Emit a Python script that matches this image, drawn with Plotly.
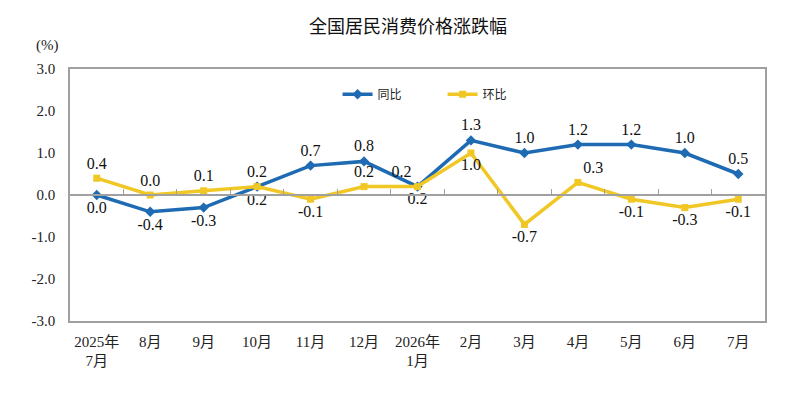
import plotly.graph_objects as go

# 月份
months = ["2025年<br>7月", "8月", "9月", "10月", "11月", "12月", "2026年<br>1月",
          "2月", "3月", "4月", "5月", "6月", "7月"]
# 同比 / 环比 (%)
yoy = [0.0, -0.4, -0.3, 0.2, 0.7, 0.8, 0.2, 1.3, 1.0, 1.2, 1.2, 1.0, 0.5]
mom = [0.4, 0.0, 0.1, 0.2, -0.1, 0.2, 0.2, 1.0, -0.7, 0.3, -0.1, -0.3, -0.1]
y_ticks = [3.0, 2.0, 1.0, 0.0, -1.0, -2.0, -3.0]

yoy_pos = ["bottom center", "bottom center", "bottom center", "bottom center",
           "top center", "top center", "top left", "top center", "top center",
           "top center", "top center", "top center", "top center"]
mom_pos = ["top center", "top center", "top center", "top center", "bottom center",
           "top center", "bottom center", "bottom center", "bottom center",
           "top right", "bottom center", "bottom center", "bottom center"]

serif = "Liberation Serif, Times New Roman, Noto Sans CJK SC"
sans = "Noto Sans CJK SC, Noto Sans"
blue = "#1E6BB4"
yellow = "#F0C724"

fig = go.Figure()
fig.add_trace(go.Scatter(
    x=months, y=yoy, name="同比", mode="lines+markers+text",
    line=dict(color=blue, width=3.5),
    marker=dict(symbol="diamond", size=8, color=blue),
    text=[f"{v:.1f}" for v in yoy], textposition=yoy_pos,
    textfont=dict(family=serif, size=16, color="#111"),
    cliponaxis=False,
))
fig.add_trace(go.Scatter(
    x=months, y=mom, name="环比", mode="lines+markers+text",
    line=dict(color=yellow, width=3.5),
    marker=dict(symbol="square", size=7, color=yellow),
    text=[f"{v:.1f}" for v in mom], textposition=mom_pos,
    textfont=dict(family=serif, size=16, color="#111"),
    cliponaxis=False,
))
# 零线上的刻度
fig.add_trace(go.Scatter(x=months, y=[0] * len(months), xaxis="x2",
                         mode="lines", line=dict(width=0), showlegend=False,
                         hoverinfo="skip"))

fig.update_layout(
    width=800, height=406,
    margin=dict(l=62, r=43, t=61, b=93),
    paper_bgcolor="white", plot_bgcolor="white",
    title=dict(text="全国居民消费价格涨跌幅", x=0.5, xanchor="center",
               y=0.955, yanchor="middle",
               font=dict(family=sans, size=18, color="#111")),
    font=dict(family=serif, size=14, color="#222"),
    legend=dict(orientation="h", x=0.385, y=0.9, xanchor="left", yanchor="middle",
                font=dict(family=sans, size=12, color="#222"),
                bgcolor="rgba(0,0,0,0)", itemwidth=30, tracegroupgap=0,
                entrywidth=60),
    xaxis=dict(type="category", categoryarray=months, range=[-0.5, 12.5],
               showline=True, linecolor="#a0a0a0", linewidth=1.5, mirror=True,
               ticks="outside", ticklen=6, tickcolor="rgba(0,0,0,0)", showgrid=False,
               tickfont=dict(family=serif + ", " + sans, size=15, color="#222")),
    xaxis2=dict(type="category", categoryarray=months, range=[-0.5, 12.5],
                overlaying="x", anchor="free", position=0.5, side="bottom",
                showline=True, linecolor="#a0a0a0", linewidth=1.5,
                ticks="inside", ticklen=5, tickcolor="#a0a0a0", tickson="boundaries",
                showticklabels=False, showgrid=False),
    yaxis=dict(range=[-3, 3], tickvals=y_ticks,
               ticktext=[f"{v:.1f}" for v in y_ticks],
               showline=True, linecolor="#a0a0a0", linewidth=1.5, mirror=True,
               showgrid=False, zeroline=False,
               ticks="outside", ticklen=10, tickcolor="rgba(0,0,0,0)",
               tickfont=dict(family=serif, size=15, color="#222")),
    annotations=[dict(text="(%)", xref="paper", yref="paper", x=-0.033, y=1.05,
                      xanchor="center", yanchor="bottom", showarrow=False,
                      font=dict(family=serif, size=15, color="#222"))],
)

fig.write_html("out.html")
